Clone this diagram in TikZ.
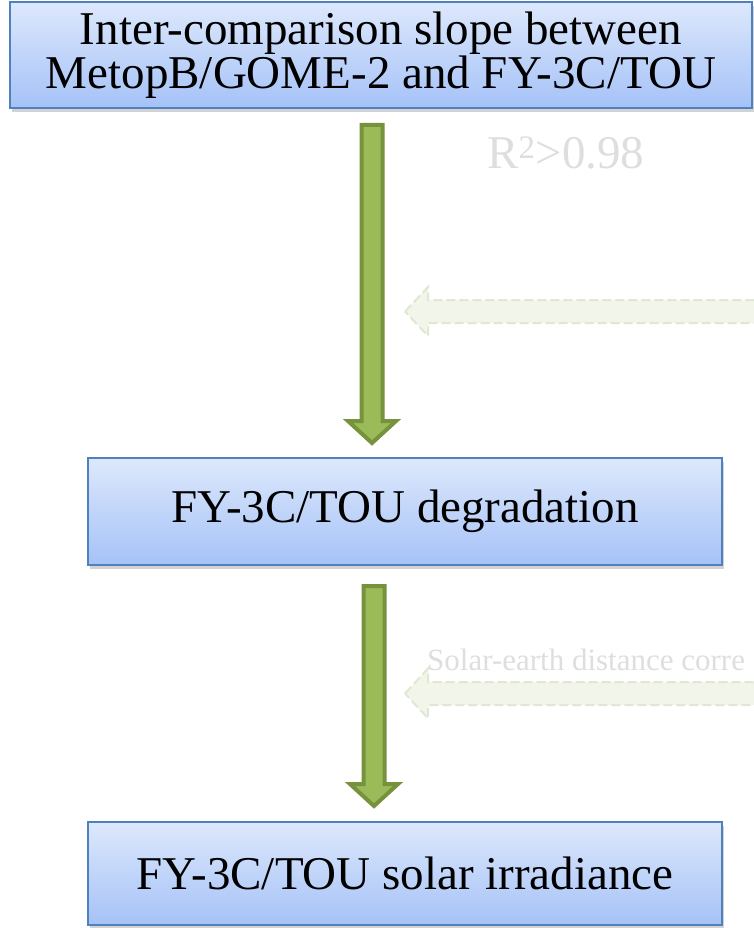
\documentclass[tikz,border=0pt]{standalone}
\usepackage{fontspec}
\setmainfont{Liberation Serif}
\usetikzlibrary{shadows,calc}
\definecolor{boxtop}{HTML}{DDE8FC}
\definecolor{boxbot}{HTML}{A5C2F7}
\definecolor{boxline}{HTML}{4F81BD}
\definecolor{arrfill}{HTML}{9BBB59}
\definecolor{arrline}{HTML}{76923C}
\definecolor{ghostfill}{HTML}{F1F5EA}
\definecolor{ghostline}{HTML}{E1E8D1}
\definecolor{ghosttext}{HTML}{DEDEDE}
\newcommand\bigdown[2]{%
  \draw[greenarrow] let \p1=(#1), \p2=(#2) in
    (\x1-10.5pt,\y1) -- (\x1+10.5pt,\y1) -- (\x1+10.5pt,\y2+22pt) -- (\x1+24pt,\y2+22pt)
    -- (\x1,\y2) -- (\x1-24pt,\y2+22pt) -- (\x1-10.5pt,\y2+22pt) -- cycle;}
\newcommand\ghostleft[3]{% tip, far end, half head width
  \draw[ghostarrow] let \p1=(#1), \p2=(#2) in
    (\x1,\y1) -- (\x1+23pt,\y1+#3) -- (\x1+23pt,\y1+11.5pt) -- (\x2,\y1+11.5pt)
    -- (\x2,\y1-11.5pt) -- (\x1+23pt,\y1-11.5pt) -- (\x1+23pt,\y1-#3) -- cycle;}
\begin{document}
\begin{tikzpicture}[x=1pt,y=-1pt,
  box/.style={draw=boxline, line width=1.5pt, top color=boxtop, bottom color=boxbot,
    inner sep=0pt, align=center, font=\fontsize{47}{44}\selectfont,
    drop shadow={shadow xshift=2pt, shadow yshift=-4pt, opacity=0.35}},
  greenarrow/.style={draw=arrline, fill=arrfill, line width=4pt, line join=miter},
  ghostarrow/.style={draw=ghostline, fill=ghostfill, line width=2pt, dash pattern=on 9pt off 4pt},
  ghostlabel/.style={text=ghosttext, inner sep=0pt}]
\useasboundingbox (0,0) rectangle (754,928);
\clip (0,0) rectangle (754,928);

\node[box, minimum width=742pt, minimum height=106pt] (b1) at (381,55)
  {Inter-comparison slope between\\MetopB/GOME-2 and FY-3C/TOU};
\node[box, minimum width=634pt, minimum height=107pt] (b2) at (405,511.5)
  {FY-3C/TOU degradation};
\node[box, minimum width=634pt, minimum height=103pt] (b3) at (405,873.5)
  {FY-3C/TOU solar irradiance};

\coordinate (a1s) at (372,125);
\coordinate (a1e) at (372,443);
\coordinate (a2s) at (374,586);
\coordinate (a2e) at (374,806);
\bigdown{a1s}{a1e}
\bigdown{a2s}{a2e}

\coordinate (g1tip) at (405,311.5);
\coordinate (g1end) at (775,311.5);
\coordinate (g2tip) at (405,693.5);
\coordinate (g2end) at (775,693.5);
\ghostleft{g1tip}{g1end}{24.5pt}
\ghostleft{g2tip}{g2end}{25pt}

\node[ghostlabel, anchor=base west, font=\fontsize{47}{47}\selectfont] (r2) at (487,168)
  {R\textsuperscript{2}>0.98};
\node[ghostlabel, anchor=base west, font=\fontsize{31}{31}\selectfont] (sed) at (427,670)
  {Solar-earth distance corre};
\end{tikzpicture}
\end{document}
